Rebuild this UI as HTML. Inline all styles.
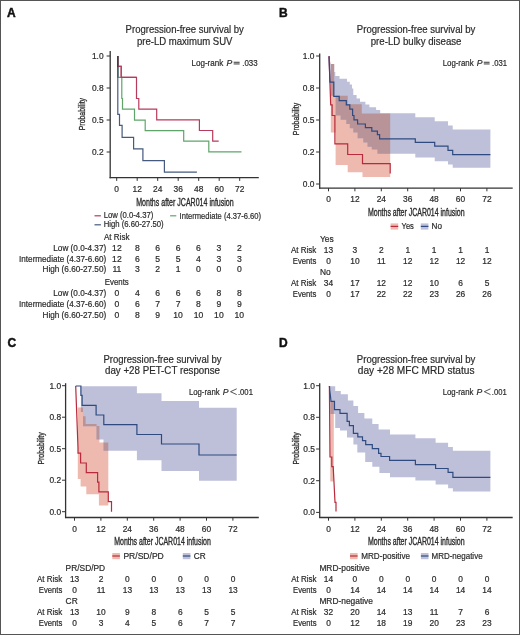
<!DOCTYPE html>
<html><head><meta charset="utf-8"><style>
html,body{margin:0;padding:0;background:#fff;}
#fig{position:relative;width:520px;height:635px;overflow:hidden;background:#fff;}
svg{position:absolute;left:0;top:0;will-change:transform;}
text{font-family:"Liberation Sans", sans-serif;stroke:#2b2b2b;stroke-width:0.2px;}
</style></head><body><div id="fig">
<svg width="520" height="635" viewBox="0 0 520 635" style="isolation:isolate">
<rect x="0" y="0" width="520" height="635" fill="#fff"/>
<defs><clipPath id="cA"><rect x="0" y="0" width="260.5" height="330"/></clipPath></defs>
<text x="7.1" y="17.1" font-size="12" fill="#111" font-weight="bold" style="stroke:#111;stroke-width:0.45px">A</text>
<text x="184.7" y="32.8" font-size="10.2" fill="#2b2b2b" text-anchor="middle" textLength="118.2" lengthAdjust="spacingAndGlyphs">Progression-free survival by</text>
<text x="184.7" y="45.4" font-size="10.2" fill="#2b2b2b" text-anchor="middle" textLength="95.6" lengthAdjust="spacingAndGlyphs">pre-LD maximum SUV</text>
<text x="191.5" y="65.8" font-size="8.6" fill="#2b2b2b" textLength="31.71" lengthAdjust="spacingAndGlyphs">Log-rank</text>
<text x="226.39" y="65.8" font-size="8.6" fill="#2b2b2b" font-style="italic">P</text>
<path d="M233.68,62.25H239.63M233.68,63.95H239.63" stroke="#2b2b2b" stroke-width="0.95" fill="none"/>
<text x="242.2" y="65.8" font-size="8.6" fill="#2b2b2b" textLength="15.39" lengthAdjust="spacingAndGlyphs">.033</text>
<path d="M110.2,51V178.29999999999998" stroke="#333" stroke-width="1.3" fill="none"/>
<path d="M109.60000000000001,177.7H258.8" stroke="#333" stroke-width="1.3" fill="none"/>
<path d="M106.60000000000001,56H110.2" stroke="#333" stroke-width="1.0" fill="none"/>
<text x="103.60000000000001" y="58.9" font-size="8.4" fill="#2b2b2b" text-anchor="end">1.0</text>
<path d="M106.60000000000001,88H110.2" stroke="#333" stroke-width="1.0" fill="none"/>
<text x="103.60000000000001" y="90.9" font-size="8.4" fill="#2b2b2b" text-anchor="end">0.8</text>
<path d="M106.60000000000001,120H110.2" stroke="#333" stroke-width="1.0" fill="none"/>
<text x="103.60000000000001" y="122.9" font-size="8.4" fill="#2b2b2b" text-anchor="end">0.5</text>
<path d="M106.60000000000001,152H110.2" stroke="#333" stroke-width="1.0" fill="none"/>
<text x="103.60000000000001" y="154.9" font-size="8.4" fill="#2b2b2b" text-anchor="end">0.2</text>
<path d="M116.7,177.7V180.89999999999998" stroke="#333" stroke-width="1.0" fill="none"/>
<text x="116.7" y="191.7" font-size="8.4" fill="#2b2b2b" text-anchor="middle">0</text>
<path d="M137.2,177.7V180.89999999999998" stroke="#333" stroke-width="1.0" fill="none"/>
<text x="137.2" y="191.7" font-size="8.4" fill="#2b2b2b" text-anchor="middle">12</text>
<path d="M157.7,177.7V180.89999999999998" stroke="#333" stroke-width="1.0" fill="none"/>
<text x="157.7" y="191.7" font-size="8.4" fill="#2b2b2b" text-anchor="middle">24</text>
<path d="M178.2,177.7V180.89999999999998" stroke="#333" stroke-width="1.0" fill="none"/>
<text x="178.2" y="191.7" font-size="8.4" fill="#2b2b2b" text-anchor="middle">36</text>
<path d="M198.7,177.7V180.89999999999998" stroke="#333" stroke-width="1.0" fill="none"/>
<text x="198.7" y="191.7" font-size="8.4" fill="#2b2b2b" text-anchor="middle">48</text>
<path d="M219.2,177.7V180.89999999999998" stroke="#333" stroke-width="1.0" fill="none"/>
<text x="219.2" y="191.7" font-size="8.4" fill="#2b2b2b" text-anchor="middle">60</text>
<path d="M239.7,177.7V180.89999999999998" stroke="#333" stroke-width="1.0" fill="none"/>
<text x="239.7" y="191.7" font-size="8.4" fill="#2b2b2b" text-anchor="middle">72</text>
<text x="0" y="0" font-size="9.6" fill="#2b2b2b" text-anchor="middle" textLength="32.3" lengthAdjust="spacingAndGlyphs" style="stroke-width:0.3px" transform="translate(85.4,114.1) rotate(-90)">Probability</text>
<path d="M117.8,56V66.4H121.2V77.4H136.5V98.5H138.8V109.2H156.7V119.8H199.4V130.5H212.7V141.2H218.7" stroke="#b83a5c" stroke-width="1.2" fill="none"/>
<path d="M117.8,56V77.4H121.8V98.5H122.5V109.2H134.5V120.2H145.2V130.6H183.7V141.2H208.8V151.8H241.5" stroke="#5fa56a" stroke-width="1.2" fill="none"/>
<path d="M117.8,56V114.4H119.5V125.4H122.1V137.4H133.6V148.8H142.9V160.6H164.4V172.1H196.9" stroke="#46597e" stroke-width="1.2" fill="none"/>
<path d="M117.8,56V66.4H121.2V77.4H136.5" stroke="#b83a5c" stroke-width="1.1" fill="none"/>
<path d="M117.8,56V67.2" stroke="#3a3a40" stroke-width="1.3" fill="none"/>
<path d="M117.9,67V77.6" stroke="#3e5e66" stroke-width="1.1" fill="none"/>
<text x="136.2" y="206.2" font-size="10.4" fill="#2b2b2b" textLength="97.5" lengthAdjust="spacingAndGlyphs" style="stroke-width:0.35px">Months after JCAR014 infusion</text>
<path d="M94.5,215.8H100.9" stroke="#b83a5c" stroke-width="1.2" fill="none"/>
<text x="103.7" y="218.4" font-size="8.8" fill="#2b2b2b" textLength="49.7" lengthAdjust="spacingAndGlyphs">Low (0.0-4.37)</text>
<path d="M170.1,215.8H176.3" stroke="#5fa56a" stroke-width="1.2" fill="none"/>
<text x="179.6" y="218.8" font-size="8.8" fill="#2b2b2b" textLength="81.5" lengthAdjust="spacingAndGlyphs">Intermediate (4.37-6.60)</text>
<path d="M94.5,224.8H100.9" stroke="#46597e" stroke-width="1.2" fill="none"/>
<text x="103.7" y="227.2" font-size="8.8" fill="#2b2b2b" textLength="60" lengthAdjust="spacingAndGlyphs">High (6.60-27.50)</text>
<text x="104" y="239.9" font-size="8.6" fill="#2b2b2b" textLength="25.4" lengthAdjust="spacingAndGlyphs">At Risk</text>
<text x="106.2" y="250.8" font-size="8.6" fill="#2b2b2b" text-anchor="end" textLength="52.9" lengthAdjust="spacingAndGlyphs">Low (0.0-4.37)</text>
<text x="116.9" y="250.8" font-size="8.6" fill="#2b2b2b" text-anchor="middle">12</text>
<text x="137.3" y="250.8" font-size="8.6" fill="#2b2b2b" text-anchor="middle">8</text>
<text x="157.7" y="250.8" font-size="8.6" fill="#2b2b2b" text-anchor="middle">6</text>
<text x="178.1" y="250.8" font-size="8.6" fill="#2b2b2b" text-anchor="middle">6</text>
<text x="198.5" y="250.8" font-size="8.6" fill="#2b2b2b" text-anchor="middle">6</text>
<text x="218.9" y="250.8" font-size="8.6" fill="#2b2b2b" text-anchor="middle">3</text>
<text x="239.3" y="250.8" font-size="8.6" fill="#2b2b2b" text-anchor="middle">2</text>
<text x="106.2" y="261.6" font-size="8.6" fill="#2b2b2b" text-anchor="end" textLength="87.1" lengthAdjust="spacingAndGlyphs">Intermediate (4.37-6.60)</text>
<text x="116.9" y="261.6" font-size="8.6" fill="#2b2b2b" text-anchor="middle">12</text>
<text x="137.3" y="261.6" font-size="8.6" fill="#2b2b2b" text-anchor="middle">6</text>
<text x="157.7" y="261.6" font-size="8.6" fill="#2b2b2b" text-anchor="middle">5</text>
<text x="178.1" y="261.6" font-size="8.6" fill="#2b2b2b" text-anchor="middle">5</text>
<text x="198.5" y="261.6" font-size="8.6" fill="#2b2b2b" text-anchor="middle">4</text>
<text x="218.9" y="261.6" font-size="8.6" fill="#2b2b2b" text-anchor="middle">3</text>
<text x="239.3" y="261.6" font-size="8.6" fill="#2b2b2b" text-anchor="middle">3</text>
<text x="106.2" y="272.4" font-size="8.6" fill="#2b2b2b" text-anchor="end" textLength="63.7" lengthAdjust="spacingAndGlyphs">High (6.60-27.50)</text>
<text x="116.9" y="272.4" font-size="8.6" fill="#2b2b2b" text-anchor="middle">11</text>
<text x="137.3" y="272.4" font-size="8.6" fill="#2b2b2b" text-anchor="middle">3</text>
<text x="157.7" y="272.4" font-size="8.6" fill="#2b2b2b" text-anchor="middle">2</text>
<text x="178.1" y="272.4" font-size="8.6" fill="#2b2b2b" text-anchor="middle">1</text>
<text x="198.5" y="272.4" font-size="8.6" fill="#2b2b2b" text-anchor="middle">0</text>
<text x="218.9" y="272.4" font-size="8.6" fill="#2b2b2b" text-anchor="middle">0</text>
<text x="239.3" y="272.4" font-size="8.6" fill="#2b2b2b" text-anchor="middle">0</text>
<text x="104.8" y="285.2" font-size="8.6" fill="#2b2b2b" textLength="24" lengthAdjust="spacingAndGlyphs">Events</text>
<text x="106.2" y="296.2" font-size="8.6" fill="#2b2b2b" text-anchor="end" textLength="52.9" lengthAdjust="spacingAndGlyphs">Low (0.0-4.37)</text>
<text x="116.9" y="296.2" font-size="8.6" fill="#2b2b2b" text-anchor="middle">0</text>
<text x="137.3" y="296.2" font-size="8.6" fill="#2b2b2b" text-anchor="middle">4</text>
<text x="157.7" y="296.2" font-size="8.6" fill="#2b2b2b" text-anchor="middle">6</text>
<text x="178.1" y="296.2" font-size="8.6" fill="#2b2b2b" text-anchor="middle">6</text>
<text x="198.5" y="296.2" font-size="8.6" fill="#2b2b2b" text-anchor="middle">6</text>
<text x="218.9" y="296.2" font-size="8.6" fill="#2b2b2b" text-anchor="middle">8</text>
<text x="239.3" y="296.2" font-size="8.6" fill="#2b2b2b" text-anchor="middle">8</text>
<text x="106.2" y="307.1" font-size="8.6" fill="#2b2b2b" text-anchor="end" textLength="87.1" lengthAdjust="spacingAndGlyphs">Intermediate (4.37-6.60)</text>
<text x="116.9" y="307.1" font-size="8.6" fill="#2b2b2b" text-anchor="middle">0</text>
<text x="137.3" y="307.1" font-size="8.6" fill="#2b2b2b" text-anchor="middle">6</text>
<text x="157.7" y="307.1" font-size="8.6" fill="#2b2b2b" text-anchor="middle">7</text>
<text x="178.1" y="307.1" font-size="8.6" fill="#2b2b2b" text-anchor="middle">7</text>
<text x="198.5" y="307.1" font-size="8.6" fill="#2b2b2b" text-anchor="middle">8</text>
<text x="218.9" y="307.1" font-size="8.6" fill="#2b2b2b" text-anchor="middle">9</text>
<text x="239.3" y="307.1" font-size="8.6" fill="#2b2b2b" text-anchor="middle">9</text>
<text x="106.2" y="317.9" font-size="8.6" fill="#2b2b2b" text-anchor="end" textLength="63.7" lengthAdjust="spacingAndGlyphs">High (6.60-27.50)</text>
<text x="116.9" y="317.9" font-size="8.6" fill="#2b2b2b" text-anchor="middle">0</text>
<text x="137.3" y="317.9" font-size="8.6" fill="#2b2b2b" text-anchor="middle">8</text>
<text x="157.7" y="317.9" font-size="8.6" fill="#2b2b2b" text-anchor="middle">9</text>
<text x="178.1" y="317.9" font-size="8.6" fill="#2b2b2b" text-anchor="middle">10</text>
<text x="198.5" y="317.9" font-size="8.6" fill="#2b2b2b" text-anchor="middle">10</text>
<text x="218.9" y="317.9" font-size="8.6" fill="#2b2b2b" text-anchor="middle">10</text>
<text x="239.3" y="317.9" font-size="8.6" fill="#2b2b2b" text-anchor="middle">10</text>
<text x="279" y="17.1" font-size="12" fill="#111" font-weight="bold" style="stroke:#111;stroke-width:0.45px">B</text>
<text x="416.1" y="32.6" font-size="10.2" fill="#2b2b2b" text-anchor="middle" textLength="118.5" lengthAdjust="spacingAndGlyphs">Progression-free survival by</text>
<text x="416.1" y="44.9" font-size="10.2" fill="#2b2b2b" text-anchor="middle" textLength="90.7" lengthAdjust="spacingAndGlyphs">pre-LD bulky disease</text>
<text x="442.7" y="65.8" font-size="8.6" fill="#2b2b2b" textLength="30.9" lengthAdjust="spacingAndGlyphs">Log-rank</text>
<text x="476.7" y="65.8" font-size="8.6" fill="#2b2b2b" font-style="italic">P</text>
<path d="M483.80,62.25H489.60M483.80,63.95H489.60" stroke="#2b2b2b" stroke-width="0.95" fill="none"/>
<text x="492.1" y="65.8" font-size="8.6" fill="#2b2b2b" textLength="15.0" lengthAdjust="spacingAndGlyphs">.031</text>
<path d="M329,56H330V64.1H334.2V95.7H347.7V104.2H361.8V113.4H390.2V177.1H362.5V172.2H347.7V165.1H335.6V132.5H330.8V64Z" fill="#eeb9af"/>
<path d="M329,56H330V64.1H334.2V72H335.3V76H339.5V78.8H347V81.8H349.8V84.5H352V88.4H353.3V95.1H356.6V98.5H360V101.8H365.4V104.5H369.4V107.2H376.1V109.9H380.2V113.3H415.3V117.3H434.7V121.2H448V125.4H452.7V129.6H490.4V167.7H452.7V164.5H448V161.3H434.7V157.5H415.3V153.8H377.4V149.5H371.8V146.7H367.5V142.4H363.3V138.2H357.6V132.5H353.3V128.3H349.8V124H346.3V119.8H340.6V115.5H335.6V95.8H330.2V64Z" fill="#bec0d9"/>
<clipPath id="clp1"><path d="M329,56H330V64.1H334.2V95.7H347.7V104.2H361.8V113.4H390.2V177.1H362.5V172.2H347.7V165.1H335.6V132.5H330.8V64Z"/></clipPath>
<path d="M329,56H330V64.1H334.2V72H335.3V76H339.5V78.8H347V81.8H349.8V84.5H352V88.4H353.3V95.1H356.6V98.5H360V101.8H365.4V104.5H369.4V107.2H376.1V109.9H380.2V113.3H415.3V117.3H434.7V121.2H448V125.4H452.7V129.6H490.4V167.7H452.7V164.5H448V161.3H434.7V157.5H415.3V153.8H377.4V149.5H371.8V146.7H367.5V142.4H363.3V138.2H357.6V132.5H353.3V128.3H349.8V124H346.3V119.8H340.6V115.5H335.6V95.8H330.2V64Z" fill="#b89398" clip-path="url(#clp1)"/>
<path d="M319.7,53.5V188.7" stroke="#333" stroke-width="1.3" fill="none"/>
<path d="M319.09999999999997,188.1H512.7" stroke="#333" stroke-width="1.3" fill="none"/>
<path d="M316.09999999999997,56H319.7" stroke="#333" stroke-width="1.0" fill="none"/>
<text x="314.4" y="58.9" font-size="8.4" fill="#2b2b2b" text-anchor="end">1.0</text>
<path d="M316.09999999999997,88H319.7" stroke="#333" stroke-width="1.0" fill="none"/>
<text x="314.4" y="90.9" font-size="8.4" fill="#2b2b2b" text-anchor="end">0.8</text>
<path d="M316.09999999999997,120H319.7" stroke="#333" stroke-width="1.0" fill="none"/>
<text x="314.4" y="122.9" font-size="8.4" fill="#2b2b2b" text-anchor="end">0.5</text>
<path d="M316.09999999999997,152H319.7" stroke="#333" stroke-width="1.0" fill="none"/>
<text x="314.4" y="154.9" font-size="8.4" fill="#2b2b2b" text-anchor="end">0.2</text>
<path d="M316.09999999999997,184H319.7" stroke="#333" stroke-width="1.0" fill="none"/>
<text x="314.4" y="186.9" font-size="8.4" fill="#2b2b2b" text-anchor="end">0.0</text>
<path d="M328.5,188.1V191.29999999999998" stroke="#333" stroke-width="1.0" fill="none"/>
<text x="328.5" y="202.1" font-size="8.4" fill="#2b2b2b" text-anchor="middle">0</text>
<path d="M354.9,188.1V191.29999999999998" stroke="#333" stroke-width="1.0" fill="none"/>
<text x="354.9" y="202.1" font-size="8.4" fill="#2b2b2b" text-anchor="middle">12</text>
<path d="M381.3,188.1V191.29999999999998" stroke="#333" stroke-width="1.0" fill="none"/>
<text x="381.3" y="202.1" font-size="8.4" fill="#2b2b2b" text-anchor="middle">24</text>
<path d="M407.7,188.1V191.29999999999998" stroke="#333" stroke-width="1.0" fill="none"/>
<text x="407.7" y="202.1" font-size="8.4" fill="#2b2b2b" text-anchor="middle">36</text>
<path d="M434.1,188.1V191.29999999999998" stroke="#333" stroke-width="1.0" fill="none"/>
<text x="434.1" y="202.1" font-size="8.4" fill="#2b2b2b" text-anchor="middle">48</text>
<path d="M460.5,188.1V191.29999999999998" stroke="#333" stroke-width="1.0" fill="none"/>
<text x="460.5" y="202.1" font-size="8.4" fill="#2b2b2b" text-anchor="middle">60</text>
<path d="M486.9,188.1V191.29999999999998" stroke="#333" stroke-width="1.0" fill="none"/>
<text x="486.9" y="202.1" font-size="8.4" fill="#2b2b2b" text-anchor="middle">72</text>
<text x="0" y="0" font-size="9.6" fill="#2b2b2b" text-anchor="middle" textLength="32.3" lengthAdjust="spacingAndGlyphs" style="stroke-width:0.3px" transform="translate(298.8,119) rotate(-90)">Probability</text>
<path d="M329,56L330.7,104.9H332.1V115.5H334.9V143.8H347.7V154.5H362.5V163.7H390.2V173.6" stroke="#b82a3c" stroke-width="1.2" fill="none"/>
<path d="M329,56.4L330,82.2H333.8V96.4H339.2V100.6H346.3V104.9H349.8V109.1H352.6V115.5H354V119.8H357.6V124H365.4V127.6H371.8V131.1H377.4V134.6H379.6V138.8H415.3V142.3H434.7V146.1H448V150.3H452.7V154.6H490.4" stroke="#2e4a80" stroke-width="1.2" fill="none"/>
<text x="368" y="215.8" font-size="10.4" fill="#2b2b2b" textLength="96.6" lengthAdjust="spacingAndGlyphs" style="stroke-width:0.35px">Months after JCAR014 infusion</text>
<rect x="390.6" y="223.4" width="7.6" height="6.2" fill="#eeb9af"/>
<path d="M390.6,226.4H398.20000000000005" stroke="#b82a3c" stroke-width="1.2" fill="none"/>
<text x="401.6" y="229.3" font-size="8.4" fill="#2b2b2b" textLength="12.3" lengthAdjust="spacingAndGlyphs">Yes</text>
<rect x="420.8" y="223.4" width="7.6" height="6.2" fill="#bec0d9"/>
<path d="M420.8,226.4H428.40000000000003" stroke="#2e4a80" stroke-width="1.2" fill="none"/>
<text x="431.6" y="229.3" font-size="8.4" fill="#2b2b2b" textLength="10.4" lengthAdjust="spacingAndGlyphs">No</text>
<text x="320" y="241.9" font-size="8.4" fill="#2b2b2b">Yes</text>
<text x="316.3" y="252.8" font-size="8.4" fill="#2b2b2b" text-anchor="end" textLength="25.3" lengthAdjust="spacingAndGlyphs">At Risk</text>
<text x="328.5" y="252.8" font-size="8.4" fill="#2b2b2b" text-anchor="middle">13</text>
<text x="354.92" y="252.8" font-size="8.4" fill="#2b2b2b" text-anchor="middle">3</text>
<text x="381.34000000000003" y="252.8" font-size="8.4" fill="#2b2b2b" text-anchor="middle">2</text>
<text x="407.76" y="252.8" font-size="8.4" fill="#2b2b2b" text-anchor="middle">1</text>
<text x="434.18" y="252.8" font-size="8.4" fill="#2b2b2b" text-anchor="middle">1</text>
<text x="460.6" y="252.8" font-size="8.4" fill="#2b2b2b" text-anchor="middle">1</text>
<text x="487.02" y="252.8" font-size="8.4" fill="#2b2b2b" text-anchor="middle">1</text>
<text x="316.3" y="263.9" font-size="8.4" fill="#2b2b2b" text-anchor="end" textLength="23.5" lengthAdjust="spacingAndGlyphs">Events</text>
<text x="328.5" y="263.9" font-size="8.4" fill="#2b2b2b" text-anchor="middle">0</text>
<text x="354.92" y="263.9" font-size="8.4" fill="#2b2b2b" text-anchor="middle">10</text>
<text x="381.34000000000003" y="263.9" font-size="8.4" fill="#2b2b2b" text-anchor="middle">11</text>
<text x="407.76" y="263.9" font-size="8.4" fill="#2b2b2b" text-anchor="middle">12</text>
<text x="434.18" y="263.9" font-size="8.4" fill="#2b2b2b" text-anchor="middle">12</text>
<text x="460.6" y="263.9" font-size="8.4" fill="#2b2b2b" text-anchor="middle">12</text>
<text x="487.02" y="263.9" font-size="8.4" fill="#2b2b2b" text-anchor="middle">12</text>
<text x="320" y="274.8" font-size="8.4" fill="#2b2b2b">No</text>
<text x="316.3" y="285.7" font-size="8.4" fill="#2b2b2b" text-anchor="end" textLength="25.3" lengthAdjust="spacingAndGlyphs">At Risk</text>
<text x="328.5" y="285.7" font-size="8.4" fill="#2b2b2b" text-anchor="middle">34</text>
<text x="354.92" y="285.7" font-size="8.4" fill="#2b2b2b" text-anchor="middle">17</text>
<text x="381.34000000000003" y="285.7" font-size="8.4" fill="#2b2b2b" text-anchor="middle">12</text>
<text x="407.76" y="285.7" font-size="8.4" fill="#2b2b2b" text-anchor="middle">12</text>
<text x="434.18" y="285.7" font-size="8.4" fill="#2b2b2b" text-anchor="middle">10</text>
<text x="460.6" y="285.7" font-size="8.4" fill="#2b2b2b" text-anchor="middle">6</text>
<text x="487.02" y="285.7" font-size="8.4" fill="#2b2b2b" text-anchor="middle">5</text>
<text x="316.3" y="296.5" font-size="8.4" fill="#2b2b2b" text-anchor="end" textLength="23.5" lengthAdjust="spacingAndGlyphs">Events</text>
<text x="328.5" y="296.5" font-size="8.4" fill="#2b2b2b" text-anchor="middle">0</text>
<text x="354.92" y="296.5" font-size="8.4" fill="#2b2b2b" text-anchor="middle">17</text>
<text x="381.34000000000003" y="296.5" font-size="8.4" fill="#2b2b2b" text-anchor="middle">22</text>
<text x="407.76" y="296.5" font-size="8.4" fill="#2b2b2b" text-anchor="middle">22</text>
<text x="434.18" y="296.5" font-size="8.4" fill="#2b2b2b" text-anchor="middle">23</text>
<text x="460.6" y="296.5" font-size="8.4" fill="#2b2b2b" text-anchor="middle">26</text>
<text x="487.02" y="296.5" font-size="8.4" fill="#2b2b2b" text-anchor="middle">26</text>
<text x="7.6" y="346.9" font-size="12" fill="#111" font-weight="bold" style="stroke:#111;stroke-width:0.45px">C</text>
<text x="162.5" y="362.6" font-size="10.2" fill="#2b2b2b" text-anchor="middle" textLength="118" lengthAdjust="spacingAndGlyphs">Progression-free survival by</text>
<text x="162.5" y="373.9" font-size="10.2" fill="#2b2b2b" text-anchor="middle" textLength="115" lengthAdjust="spacingAndGlyphs">day +28 PET-CT response</text>
<text x="188.9" y="394.8" font-size="8.6" fill="#2b2b2b" textLength="30.71" lengthAdjust="spacingAndGlyphs">Log-rank</text>
<text x="222.69" y="394.8" font-size="8.6" fill="#2b2b2b" font-style="italic">P</text>
<path d="M236.70,388.80L230.54,391.70L236.70,394.60" stroke="#2b2b2b" stroke-width="0.8" fill="none"/>
<text x="237.99" y="394.8" font-size="8.6" fill="#2b2b2b" textLength="14.91" lengthAdjust="spacingAndGlyphs">.001</text>
<path d="M77.8,407.5H83V416.3H85.6V424H96.6V426H99.4V442.6H108.3V505.5H98.9V494.2H86.3V486.6H80.6V479H77.8Z" fill="#eeb9af"/>
<path d="M80.9,386.2H136.9V393.2H161.5V400.9H199V407.7H236.7V480.8H199V471H161.5V460.2H136.9V450.8H103.5V439.5H96.5V426.3H83V412H80.9Z" fill="#bec0d9"/>
<clipPath id="clp2"><path d="M77.8,407.5H83V416.3H85.6V424H96.6V426H99.4V442.6H108.3V505.5H98.9V494.2H86.3V486.6H80.6V479H77.8Z"/></clipPath>
<path d="M80.9,386.2H136.9V393.2H161.5V400.9H199V407.7H236.7V480.8H199V471H161.5V460.2H136.9V450.8H103.5V439.5H96.5V426.3H83V412H80.9Z" fill="#b89398" clip-path="url(#clp2)"/>
<path d="M65.6,383.2V518.1" stroke="#333" stroke-width="1.3" fill="none"/>
<path d="M65.0,517.5H258.8" stroke="#333" stroke-width="1.3" fill="none"/>
<path d="M61.99999999999999,385.7H65.6" stroke="#333" stroke-width="1.0" fill="none"/>
<text x="61.099999999999994" y="388.59999999999997" font-size="8.4" fill="#2b2b2b" text-anchor="end">1.0</text>
<path d="M61.99999999999999,417.2H65.6" stroke="#333" stroke-width="1.0" fill="none"/>
<text x="61.099999999999994" y="420.09999999999997" font-size="8.4" fill="#2b2b2b" text-anchor="end">0.8</text>
<path d="M61.99999999999999,448.7H65.6" stroke="#333" stroke-width="1.0" fill="none"/>
<text x="61.099999999999994" y="451.59999999999997" font-size="8.4" fill="#2b2b2b" text-anchor="end">0.5</text>
<path d="M61.99999999999999,480.2H65.6" stroke="#333" stroke-width="1.0" fill="none"/>
<text x="61.099999999999994" y="483.09999999999997" font-size="8.4" fill="#2b2b2b" text-anchor="end">0.2</text>
<path d="M61.99999999999999,511.7H65.6" stroke="#333" stroke-width="1.0" fill="none"/>
<text x="61.099999999999994" y="514.6" font-size="8.4" fill="#2b2b2b" text-anchor="end">0.0</text>
<path d="M74.5,517.5V520.7" stroke="#333" stroke-width="1.0" fill="none"/>
<text x="74.5" y="531.5" font-size="8.4" fill="#2b2b2b" text-anchor="middle">0</text>
<path d="M100.9,517.5V520.7" stroke="#333" stroke-width="1.0" fill="none"/>
<text x="100.9" y="531.5" font-size="8.4" fill="#2b2b2b" text-anchor="middle">12</text>
<path d="M127.3,517.5V520.7" stroke="#333" stroke-width="1.0" fill="none"/>
<text x="127.3" y="531.5" font-size="8.4" fill="#2b2b2b" text-anchor="middle">24</text>
<path d="M153.7,517.5V520.7" stroke="#333" stroke-width="1.0" fill="none"/>
<text x="153.7" y="531.5" font-size="8.4" fill="#2b2b2b" text-anchor="middle">36</text>
<path d="M180.1,517.5V520.7" stroke="#333" stroke-width="1.0" fill="none"/>
<text x="180.1" y="531.5" font-size="8.4" fill="#2b2b2b" text-anchor="middle">48</text>
<path d="M206.5,517.5V520.7" stroke="#333" stroke-width="1.0" fill="none"/>
<text x="206.5" y="531.5" font-size="8.4" fill="#2b2b2b" text-anchor="middle">60</text>
<path d="M232.89999999999998,517.5V520.7" stroke="#333" stroke-width="1.0" fill="none"/>
<text x="232.89999999999998" y="531.5" font-size="8.4" fill="#2b2b2b" text-anchor="middle">72</text>
<text x="0" y="0" font-size="9.6" fill="#2b2b2b" text-anchor="middle" textLength="32.3" lengthAdjust="spacingAndGlyphs" style="stroke-width:0.3px" transform="translate(44.0,448.4) rotate(-90)">Probability</text>
<path d="M75.7,386L78,448V453.2H80.6V463H86.3V472.7H97.6V482.2H98.9V491.9H108.3V501.7H111.5V511.8" stroke="#b82a3c" stroke-width="1.2" fill="none"/>
<path d="M75.7,386H80.9V395.4H82.1V405.3H96.1V415H103.8V424.6H136.9V434.5H161.5V444H199V455H236.7" stroke="#2e4a80" stroke-width="1.2" fill="none"/>
<text x="114.2" y="545.3" font-size="10.4" fill="#2b2b2b" textLength="96.6" lengthAdjust="spacingAndGlyphs" style="stroke-width:0.35px">Months after JCAR014 infusion</text>
<rect x="112.3" y="553" width="7.6" height="6.2" fill="#eeb9af"/>
<path d="M112.3,556H119.89999999999999" stroke="#b82a3c" stroke-width="1.2" fill="none"/>
<text x="123.4" y="558.7" font-size="8.4" fill="#2b2b2b" textLength="40.4" lengthAdjust="spacingAndGlyphs">PR/SD/PD</text>
<rect x="182.8" y="553" width="7.6" height="6.2" fill="#bec0d9"/>
<path d="M182.8,556H190.4" stroke="#2e4a80" stroke-width="1.2" fill="none"/>
<text x="193.8" y="558.7" font-size="8.4" fill="#2b2b2b" textLength="11.9" lengthAdjust="spacingAndGlyphs">CR</text>
<text x="65.6" y="570.9" font-size="8.4" fill="#2b2b2b">PR/SD/PD</text>
<text x="62.3" y="581.7" font-size="8.4" fill="#2b2b2b" text-anchor="end" textLength="25.3" lengthAdjust="spacingAndGlyphs">At Risk</text>
<text x="74.6" y="581.7" font-size="8.4" fill="#2b2b2b" text-anchor="middle">13</text>
<text x="101.02" y="581.7" font-size="8.4" fill="#2b2b2b" text-anchor="middle">2</text>
<text x="127.44" y="581.7" font-size="8.4" fill="#2b2b2b" text-anchor="middle">0</text>
<text x="153.86" y="581.7" font-size="8.4" fill="#2b2b2b" text-anchor="middle">0</text>
<text x="180.28" y="581.7" font-size="8.4" fill="#2b2b2b" text-anchor="middle">0</text>
<text x="206.70000000000002" y="581.7" font-size="8.4" fill="#2b2b2b" text-anchor="middle">0</text>
<text x="233.12" y="581.7" font-size="8.4" fill="#2b2b2b" text-anchor="middle">0</text>
<text x="62.3" y="592.8" font-size="8.4" fill="#2b2b2b" text-anchor="end" textLength="23.5" lengthAdjust="spacingAndGlyphs">Events</text>
<text x="74.6" y="592.8" font-size="8.4" fill="#2b2b2b" text-anchor="middle">0</text>
<text x="101.02" y="592.8" font-size="8.4" fill="#2b2b2b" text-anchor="middle">11</text>
<text x="127.44" y="592.8" font-size="8.4" fill="#2b2b2b" text-anchor="middle">13</text>
<text x="153.86" y="592.8" font-size="8.4" fill="#2b2b2b" text-anchor="middle">13</text>
<text x="180.28" y="592.8" font-size="8.4" fill="#2b2b2b" text-anchor="middle">13</text>
<text x="206.70000000000002" y="592.8" font-size="8.4" fill="#2b2b2b" text-anchor="middle">13</text>
<text x="233.12" y="592.8" font-size="8.4" fill="#2b2b2b" text-anchor="middle">13</text>
<text x="65.6" y="603.7" font-size="8.4" fill="#2b2b2b">CR</text>
<text x="62.3" y="614.8" font-size="8.4" fill="#2b2b2b" text-anchor="end" textLength="25.3" lengthAdjust="spacingAndGlyphs">At Risk</text>
<text x="74.6" y="614.8" font-size="8.4" fill="#2b2b2b" text-anchor="middle">13</text>
<text x="101.02" y="614.8" font-size="8.4" fill="#2b2b2b" text-anchor="middle">10</text>
<text x="127.44" y="614.8" font-size="8.4" fill="#2b2b2b" text-anchor="middle">9</text>
<text x="153.86" y="614.8" font-size="8.4" fill="#2b2b2b" text-anchor="middle">8</text>
<text x="180.28" y="614.8" font-size="8.4" fill="#2b2b2b" text-anchor="middle">6</text>
<text x="206.70000000000002" y="614.8" font-size="8.4" fill="#2b2b2b" text-anchor="middle">5</text>
<text x="233.12" y="614.8" font-size="8.4" fill="#2b2b2b" text-anchor="middle">5</text>
<text x="62.3" y="625.7" font-size="8.4" fill="#2b2b2b" text-anchor="end" textLength="23.5" lengthAdjust="spacingAndGlyphs">Events</text>
<text x="74.6" y="625.7" font-size="8.4" fill="#2b2b2b" text-anchor="middle">0</text>
<text x="101.02" y="625.7" font-size="8.4" fill="#2b2b2b" text-anchor="middle">3</text>
<text x="127.44" y="625.7" font-size="8.4" fill="#2b2b2b" text-anchor="middle">4</text>
<text x="153.86" y="625.7" font-size="8.4" fill="#2b2b2b" text-anchor="middle">5</text>
<text x="180.28" y="625.7" font-size="8.4" fill="#2b2b2b" text-anchor="middle">6</text>
<text x="206.70000000000002" y="625.7" font-size="8.4" fill="#2b2b2b" text-anchor="middle">7</text>
<text x="233.12" y="625.7" font-size="8.4" fill="#2b2b2b" text-anchor="middle">7</text>
<text x="279" y="346.7" font-size="12" fill="#111" font-weight="bold" style="stroke:#111;stroke-width:0.45px">D</text>
<text x="416.1" y="362.5" font-size="10.2" fill="#2b2b2b" text-anchor="middle" textLength="118.5" lengthAdjust="spacingAndGlyphs">Progression-free survival by</text>
<text x="416.1" y="374.2" font-size="10.2" fill="#2b2b2b" text-anchor="middle" textLength="116.7" lengthAdjust="spacingAndGlyphs">day +28 MFC MRD status</text>
<text x="442.7" y="394.8" font-size="8.6" fill="#2b2b2b" textLength="30.71" lengthAdjust="spacingAndGlyphs">Log-rank</text>
<text x="476.49" y="394.8" font-size="8.6" fill="#2b2b2b" font-style="italic">P</text>
<path d="M490.50,388.80L484.34,391.70L490.50,394.60" stroke="#2b2b2b" stroke-width="0.8" fill="none"/>
<text x="491.79" y="394.8" font-size="8.6" fill="#2b2b2b" textLength="14.91" lengthAdjust="spacingAndGlyphs">.001</text>
<path d="M330.3,401H333.8V481.5H330.3Z" fill="#eeb9af"/>
<path d="M329.4,386H331.3V386.3H335.2V391H340.8V394.2H347.9V400.5H353.4V406H358.1V413.1H364.4V418.6H372.3V424.1H378.6V429.5H390V434.4H415.4V438.3H435.6V442.7H448.1V446.9H452.9V450.8H490.4V491.5H452.9V488.3H448.1V484.4H435.6V480.6H415.4V477.3H390V473H379.4V466.7H372.3V462H365.2V452.5H357.3V444.6H353.4V437.5H347V430.4H340V428.1H335.2V413.9H330.5V390Z" fill="#bec0d9"/>
<clipPath id="clp3"><path d="M330.3,401H333.8V481.5H330.3Z"/></clipPath>
<path d="M329.4,386H331.3V386.3H335.2V391H340.8V394.2H347.9V400.5H353.4V406H358.1V413.1H364.4V418.6H372.3V424.1H378.6V429.5H390V434.4H415.4V438.3H435.6V442.7H448.1V446.9H452.9V450.8H490.4V491.5H452.9V488.3H448.1V484.4H435.6V480.6H415.4V477.3H390V473H379.4V466.7H372.3V462H365.2V452.5H357.3V444.6H353.4V437.5H347V430.4H340V428.1H335.2V413.9H330.5V390Z" fill="#b89398" clip-path="url(#clp3)"/>
<path d="M319.7,383.2V518.1" stroke="#333" stroke-width="1.3" fill="none"/>
<path d="M319.09999999999997,517.5H512.7" stroke="#333" stroke-width="1.3" fill="none"/>
<path d="M316.09999999999997,385.7H319.7" stroke="#333" stroke-width="1.0" fill="none"/>
<text x="314.9" y="388.59999999999997" font-size="8.4" fill="#2b2b2b" text-anchor="end">1.0</text>
<path d="M316.09999999999997,417.3H319.7" stroke="#333" stroke-width="1.0" fill="none"/>
<text x="314.9" y="420.2" font-size="8.4" fill="#2b2b2b" text-anchor="end">0.8</text>
<path d="M316.09999999999997,449H319.7" stroke="#333" stroke-width="1.0" fill="none"/>
<text x="314.9" y="451.9" font-size="8.4" fill="#2b2b2b" text-anchor="end">0.5</text>
<path d="M316.09999999999997,480.7H319.7" stroke="#333" stroke-width="1.0" fill="none"/>
<text x="314.9" y="483.59999999999997" font-size="8.4" fill="#2b2b2b" text-anchor="end">0.2</text>
<path d="M316.09999999999997,512.4H319.7" stroke="#333" stroke-width="1.0" fill="none"/>
<text x="314.9" y="515.3" font-size="8.4" fill="#2b2b2b" text-anchor="end">0.0</text>
<path d="M328.5,517.5V520.7" stroke="#333" stroke-width="1.0" fill="none"/>
<text x="328.5" y="531.5" font-size="8.4" fill="#2b2b2b" text-anchor="middle">0</text>
<path d="M354.9,517.5V520.7" stroke="#333" stroke-width="1.0" fill="none"/>
<text x="354.9" y="531.5" font-size="8.4" fill="#2b2b2b" text-anchor="middle">12</text>
<path d="M381.3,517.5V520.7" stroke="#333" stroke-width="1.0" fill="none"/>
<text x="381.3" y="531.5" font-size="8.4" fill="#2b2b2b" text-anchor="middle">24</text>
<path d="M407.7,517.5V520.7" stroke="#333" stroke-width="1.0" fill="none"/>
<text x="407.7" y="531.5" font-size="8.4" fill="#2b2b2b" text-anchor="middle">36</text>
<path d="M434.1,517.5V520.7" stroke="#333" stroke-width="1.0" fill="none"/>
<text x="434.1" y="531.5" font-size="8.4" fill="#2b2b2b" text-anchor="middle">48</text>
<path d="M460.5,517.5V520.7" stroke="#333" stroke-width="1.0" fill="none"/>
<text x="460.5" y="531.5" font-size="8.4" fill="#2b2b2b" text-anchor="middle">60</text>
<path d="M486.9,517.5V520.7" stroke="#333" stroke-width="1.0" fill="none"/>
<text x="486.9" y="531.5" font-size="8.4" fill="#2b2b2b" text-anchor="middle">72</text>
<text x="0" y="0" font-size="9.6" fill="#2b2b2b" text-anchor="middle" textLength="32.3" lengthAdjust="spacingAndGlyphs" style="stroke-width:0.3px" transform="translate(298.8,448.4) rotate(-90)">Probability</text>
<path d="M329.4,386L330,457H331.8V466.6H333.2L335,502.3H336V511.5" stroke="#b82a3c" stroke-width="1.2" fill="none"/>
<path d="M329.4,386L331,401.3H334.5V409.6H340V413.4H347.1V421.3H349.4V425.7H353.4V433.3H357.8V436.8H362.5V440.7H365.7V444.6H372.3V448.6H378.6V453.3H381V456.5H389.6V460.4H415.4V464.6H435.6V468.5H448.1V472.3H452.9V477.3H490.4" stroke="#2e4a80" stroke-width="1.2" fill="none"/>
<text x="368" y="545.3" font-size="10.4" fill="#2b2b2b" textLength="96.6" lengthAdjust="spacingAndGlyphs" style="stroke-width:0.35px">Months after JCAR014 infusion</text>
<rect x="350" y="553" width="7.6" height="6.2" fill="#eeb9af"/>
<path d="M350,556H357.6" stroke="#b82a3c" stroke-width="1.2" fill="none"/>
<text x="361.2" y="558.7" font-size="8.4" fill="#2b2b2b" textLength="48.8" lengthAdjust="spacingAndGlyphs">MRD-positive</text>
<rect x="420.9" y="553" width="7.6" height="6.2" fill="#bec0d9"/>
<path d="M420.9,556H428.5" stroke="#2e4a80" stroke-width="1.2" fill="none"/>
<text x="431.5" y="558.7" font-size="8.4" fill="#2b2b2b" textLength="51.1" lengthAdjust="spacingAndGlyphs">MRD-negative</text>
<text x="319.4" y="570.9" font-size="8.4" fill="#2b2b2b">MRD-positive</text>
<text x="316.5" y="581.7" font-size="8.4" fill="#2b2b2b" text-anchor="end" textLength="25.3" lengthAdjust="spacingAndGlyphs">At Risk</text>
<text x="328.5" y="581.7" font-size="8.4" fill="#2b2b2b" text-anchor="middle">14</text>
<text x="354.92" y="581.7" font-size="8.4" fill="#2b2b2b" text-anchor="middle">0</text>
<text x="381.34000000000003" y="581.7" font-size="8.4" fill="#2b2b2b" text-anchor="middle">0</text>
<text x="407.76" y="581.7" font-size="8.4" fill="#2b2b2b" text-anchor="middle">0</text>
<text x="434.18" y="581.7" font-size="8.4" fill="#2b2b2b" text-anchor="middle">0</text>
<text x="460.6" y="581.7" font-size="8.4" fill="#2b2b2b" text-anchor="middle">0</text>
<text x="487.02" y="581.7" font-size="8.4" fill="#2b2b2b" text-anchor="middle">0</text>
<text x="316.5" y="592.8" font-size="8.4" fill="#2b2b2b" text-anchor="end" textLength="23.5" lengthAdjust="spacingAndGlyphs">Events</text>
<text x="328.5" y="592.8" font-size="8.4" fill="#2b2b2b" text-anchor="middle">0</text>
<text x="354.92" y="592.8" font-size="8.4" fill="#2b2b2b" text-anchor="middle">14</text>
<text x="381.34000000000003" y="592.8" font-size="8.4" fill="#2b2b2b" text-anchor="middle">14</text>
<text x="407.76" y="592.8" font-size="8.4" fill="#2b2b2b" text-anchor="middle">14</text>
<text x="434.18" y="592.8" font-size="8.4" fill="#2b2b2b" text-anchor="middle">14</text>
<text x="460.6" y="592.8" font-size="8.4" fill="#2b2b2b" text-anchor="middle">14</text>
<text x="487.02" y="592.8" font-size="8.4" fill="#2b2b2b" text-anchor="middle">14</text>
<text x="319.4" y="603.7" font-size="8.4" fill="#2b2b2b">MRD-negative</text>
<text x="316.5" y="614.8" font-size="8.4" fill="#2b2b2b" text-anchor="end" textLength="25.3" lengthAdjust="spacingAndGlyphs">At Risk</text>
<text x="328.5" y="614.8" font-size="8.4" fill="#2b2b2b" text-anchor="middle">32</text>
<text x="354.92" y="614.8" font-size="8.4" fill="#2b2b2b" text-anchor="middle">20</text>
<text x="381.34000000000003" y="614.8" font-size="8.4" fill="#2b2b2b" text-anchor="middle">14</text>
<text x="407.76" y="614.8" font-size="8.4" fill="#2b2b2b" text-anchor="middle">13</text>
<text x="434.18" y="614.8" font-size="8.4" fill="#2b2b2b" text-anchor="middle">11</text>
<text x="460.6" y="614.8" font-size="8.4" fill="#2b2b2b" text-anchor="middle">7</text>
<text x="487.02" y="614.8" font-size="8.4" fill="#2b2b2b" text-anchor="middle">6</text>
<text x="316.5" y="625.7" font-size="8.4" fill="#2b2b2b" text-anchor="end" textLength="23.5" lengthAdjust="spacingAndGlyphs">Events</text>
<text x="328.5" y="625.7" font-size="8.4" fill="#2b2b2b" text-anchor="middle">0</text>
<text x="354.92" y="625.7" font-size="8.4" fill="#2b2b2b" text-anchor="middle">12</text>
<text x="381.34000000000003" y="625.7" font-size="8.4" fill="#2b2b2b" text-anchor="middle">18</text>
<text x="407.76" y="625.7" font-size="8.4" fill="#2b2b2b" text-anchor="middle">19</text>
<text x="434.18" y="625.7" font-size="8.4" fill="#2b2b2b" text-anchor="middle">20</text>
<text x="460.6" y="625.7" font-size="8.4" fill="#2b2b2b" text-anchor="middle">23</text>
<text x="487.02" y="625.7" font-size="8.4" fill="#2b2b2b" text-anchor="middle">23</text>
<rect x="0.5" y="0.5" width="519" height="634" fill="none" stroke="#555" stroke-width="1"/>
</svg></div></body></html>
